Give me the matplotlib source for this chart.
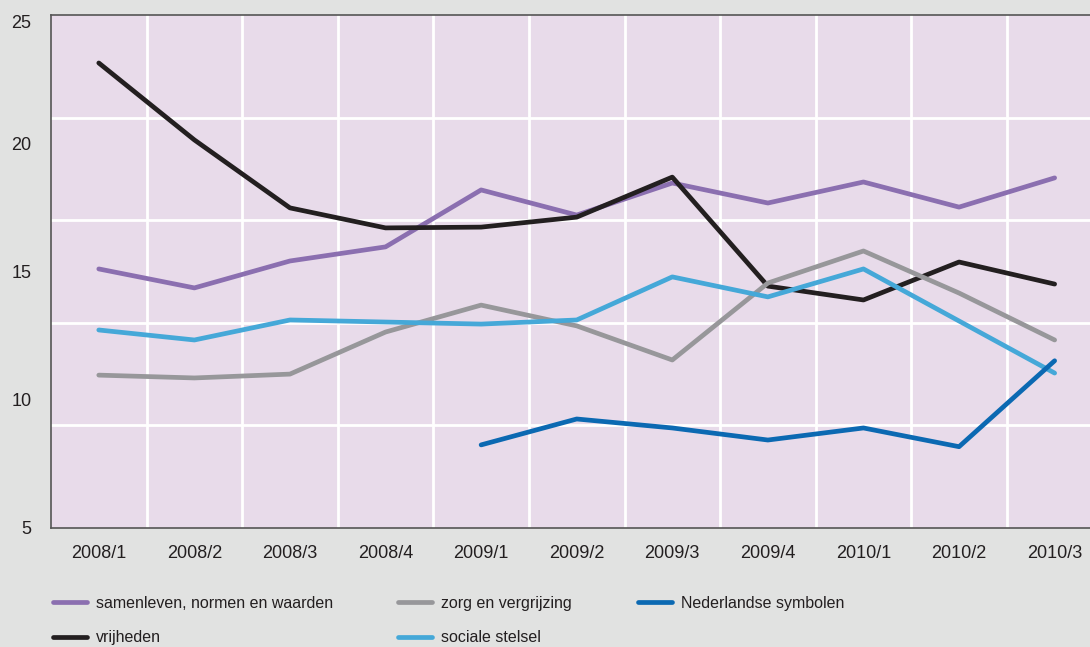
import matplotlib.pyplot as plt

quarters = ["2008/1", "2008/2", "2008/3", "2008/4", "2009/1", "2009/2",
            "2009/3", "2009/4", "2010/1", "2010/2", "2010/3"]
samenleven = [15.1, 14.36, 15.41, 15.96, 18.18, 17.2, 18.45, 17.67, 18.49, 17.51, 18.65]
vrijheden = [23.13, 20.13, 17.48, 16.7, 16.73, 17.12, 18.68, 14.43, 13.89, 15.37, 14.51]
zorg = [10.96, 10.85, 11.0, 12.64, 13.69, 12.88, 11.55, 14.55, 15.8, 14.16, 12.33]
sociale = [12.72, 12.33, 13.11, 13.03, 12.95, 13.11, 14.79, 14.01, 15.1, 13.07, 11.04]
symbolen = [8.24, 9.25, 8.9, 8.43, 8.9, 8.17, 11.52]

plt.rcParams['font.family'] = ['Liberation Sans', 'DejaVu Sans']

fig = plt.figure(figsize=(10.9, 6.47), dpi=100, facecolor="#e1e2e1")
ax = fig.add_axes([51 / 1090, 1 - 528 / 647, 1 - 51 / 1090, (528 - 15) / 647])
ax.set_facecolor("#e8dbea")

x = range(len(quarters))
xs = range(4, len(quarters))
lw = 3.4
ax.plot(x, samenleven, color="#8b6fb0", lw=lw, solid_capstyle="round", label="samenleven, normen en waarden")
ax.plot(x, vrijheden, color="#231f20", lw=lw, solid_capstyle="round", label="vrijheden")
ax.plot(x, zorg, color="#97979a", lw=lw, solid_capstyle="round", label="zorg en vergrijzing")
ax.plot(x, sociale, color="#45a8d8", lw=lw, solid_capstyle="round", label="sociale stelsel")
ax.plot(xs, symbolen, color="#0b69b2", lw=lw, solid_capstyle="round", label="Nederlandse symbolen")

ax.set_xlim(-0.5, 10.37)
ax.set_ylim(5, 25)
ax.set_xticks(list(x))
ax.set_xticklabels(quarters)
ax.set_xticks([i + 0.5 for i in range(10)], minor=True)
ax.set_yticks([5, 10, 15, 20, 25])
ax.set_yticks([9, 13, 17, 21], minor=True)
ax.grid(which="minor", color="white", lw=2)
ax.grid(which="major", visible=False)
ax.set_axisbelow(True)
ax.tick_params(which="both", length=0)
ax.tick_params(axis="x", pad=12, labelsize=13, colors="#231f20")
ax.tick_params(axis="y", pad=14, labelsize=13, colors="#231f20")
ax.get_yticklabels()[-1].set_va("top")
for s in ["left", "bottom", "top"]:
    ax.spines[s].set_color("#555555")
    ax.spines[s].set_linewidth(1.2)
ax.spines["right"].set_visible(False)

h, l = ax.get_legend_handles_labels()
cols = [([0, 1], 53 / 1090), ([2, 3], 398 / 1090), ([4], 638 / 1090)]
for idx, xpos in cols:
    leg = fig.legend([h[i] for i in idx], [l[i] for i in idx], loc="upper left",
                     bbox_to_anchor=(xpos, 1 - 596 / 647), frameon=False,
                     fontsize=11.5, handlelength=2.1, handletextpad=0.6,
                     labelspacing=1.2, borderaxespad=0, borderpad=0)
    for t in leg.get_texts():
        t.set_color("#231f20")

fig.savefig("out.png", dpi=100, facecolor=fig.get_facecolor())
